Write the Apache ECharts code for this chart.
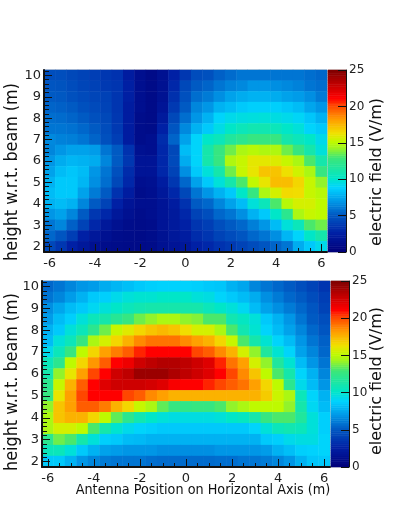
<!DOCTYPE html>
<html>
<head>
<meta charset="utf-8">
<style>html,body{margin:0;padding:0;background:#fff}#main{width:399px;height:532px}</style>
<script src="https://cdn.jsdelivr.net/npm/echarts@6/dist/echarts.min.js"></script>
</head>
<body>
<div id="main"></div>
<script>
// antenna positions -6..6 and heights 10..2, both in 0.5 m steps
var xCats = ['-6','-5.5','-5','-4.5','-4','-3.5','-3','-2.5','-2','-1.5','-1','-0.5','0','0.5','1','1.5','2','2.5','3','3.5','4','4.5','5','5.5','6']
var yCats = ['10','9.5','9','8.5','8','7.5','7','6.5','6','5.5','5','4.5','4','3.5','3','2.5','2']

// field values, first row is the top one (y = 10)
var topField = [
  [4.5,4.5,4.2,4,3.8,3.5,3.3,2.2,1.2,0.8,1.3,2.5,3.5,4.4,4.6,5.2,5.5,5.8,5.8,5.8,5.8,5.8,5.8,5.6,5.4],
  [4.8,4.7,4.4,4.1,3.9,3.6,3.4,2.4,1.2,0.8,1.3,2.8,4.2,5,5.3,5.8,6.2,6.4,6.8,6.8,6.6,6.4,6.2,5.8,5.6],
  [5,4.9,4.6,4.3,4.1,3.9,3.4,2.4,1.2,0.8,1.4,3.2,4.6,5.6,6,6.6,7.2,7.5,7.7,7.7,7.5,7.2,7,6.6,6],
  [5.3,5.2,5,4.6,4.3,4,3.4,2.2,1.2,0.8,1.6,3.6,5,6.3,6.8,7.7,8,8.4,8.6,8.6,8.6,8.3,8,7.3,6.8],
  [5.6,5.5,5.3,5,4.6,4.2,3.5,2.2,1,0.8,2,4.2,5.6,6.8,7.7,8.8,9.2,9.4,9.5,9.6,9.4,9.2,8.9,8.3,7.7],
  [5.8,5.8,5.7,5.4,5,4.4,3.6,2.2,1,0.9,2.5,4.8,6.4,7.7,8.4,9.3,10,10.5,10.8,10.8,10.5,10,9.6,8.8,8.4],
  [6.4,6.2,6.1,5.8,5.3,4.6,3.8,2.2,1,1.2,3,5.3,7.2,8.8,10,10.5,11.5,12,12.5,12.5,12.5,11,10.5,10,9.2],
  [6.3,6.8,7.2,7.2,7,5.8,5,3.3,1.3,1.2,2.8,4.2,8,8.8,11,12.5,13.5,14.5,14.8,14.6,14.6,13.5,12.5,11,9.6],
  [6.8,7.5,7.8,7.7,7.5,6.3,5,3.5,1.6,1.6,2.8,4.3,7.5,8.8,11,12.5,14.6,15.2,15.9,15.9,15.7,15.2,14.5,13,11],
  [7.2,8,8.3,8,6.8,5.8,4.6,3,1.6,1.6,2.8,4,6.6,8.4,9.6,11,13.5,15.2,16,17,17,16.2,15.4,14.5,12.5],
  [7.7,8.4,8.4,7.8,6.6,5.6,4.2,2.8,1.2,1.3,2.2,3.5,5.4,7.2,8.4,9.6,11,13,15.1,16,17.2,17.2,16.5,15.2,14],
  [8,8.4,8.4,7.2,6,5,3.3,2.2,1,1.2,1.9,2.8,4.2,5.8,6.8,7.7,8.4,10,12.5,14.5,15.5,16.4,16.3,15.2,14.8],
  [7.7,8,7.7,6.3,5,4,2.5,1.6,1.2,1.2,1.6,2.2,3.3,5,5.4,6.3,7.2,8,9.6,10.5,13,14.8,15.5,15.5,15],
  [6.8,7.2,6.3,5,3.5,2.8,1.9,1.3,1,1.2,1.6,2,2.8,4,4.5,5.4,5.8,6.6,7.7,8.4,10,12,14.5,15.2,15],
  [5.8,6.3,5.2,4,2.8,1.9,1.3,1,0.9,1,1.6,2,2.5,3.4,3.8,4.5,5,5.4,6.1,6.8,8,9.6,10.5,13,13.5],
  [5.4,4.8,3.8,2.5,1.9,1.3,1,0.9,0.8,1,1.4,1.9,2.2,3,3.4,4,4.4,4.8,5.4,5.8,6.6,7.8,8.8,10,11],
  [4.2,3.5,2.5,1.9,1.3,1,0.9,0.8,0.8,0.9,1.3,1.6,1.9,2.5,2.8,3.3,3.6,4,4.4,4.8,5.3,5.8,7.5,8.4,9.2]
]
var bottomField = [
  [5.4,5.8,6.3,6.8,7,7.5,7.8,8.1,8.4,8.6,8.7,8.7,8.7,8.6,8.4,8.3,7.7,7.3,6.3,5.8,5.4,5,4.5,4,3.4],
  [5.8,6.3,7,7.7,8.4,8.6,9.2,9.6,9.8,9.8,10,10,10,9.6,9.4,8.8,8.4,8,7.5,6.6,6,5.4,5,4.4,3.8],
  [6.6,7.3,8,8.4,9,9.6,10,10.5,10.8,11,11,11,11,11,10.5,10,9.6,9,8,7.2,6.6,6,5.4,4.8,4],
  [7,8,8.6,9.6,10.5,11,11.8,12.5,13.5,14,14.5,14.5,14,13.8,13,13,10.8,10.2,9.6,8.4,7.7,6.8,5.8,5,4.5],
  [7.7,8.4,9.6,10.5,12,13.5,15.2,15.8,16.5,17,17.3,17,16.3,15.5,15.5,14.5,13,10.8,9.8,8.8,8,7.2,6.3,5.4,4.8],
  [8,9.6,10.5,12.5,14.5,15.5,16.5,17.5,18.5,19,19,19,18.5,18,17.5,16.5,15.2,13,11,9.8,8.8,8,6.8,5.8,5.2],
  [9.2,10.5,12.5,15,16.5,18,18.8,19.5,20.5,21,21,21,21,20,19.5,18.5,17.5,15.5,14,11.5,9.8,8.8,7.2,6.3,5.4],
  [10.5,12,15,16.5,18.2,19.5,21,21.5,22.5,23,23.3,23.3,23,22.5,22,20.5,19,18,15.5,14,11.5,9.8,8,6.8,5.8],
  [11,14,16,18,20,21,22.5,23,24,24,24,23.5,23,22.5,22,21,20,18.5,17,15,13,11,8.8,7.7,6.3],
  [12,15.2,17.5,19.5,21,22,22.5,22.5,22.5,22.3,22,21.2,21,21,20.5,20,19.5,19,18,16.5,15,12,9.2,8,6.8],
  [12.5,16,18,20,21,21,21,20,19.5,18.5,18,17.5,17.5,17.5,17.5,17.5,17.5,17.5,17.5,16.8,15.3,14.5,10.5,8.8,7.7],
  [14,17,18,19.5,19.5,18.8,17.5,16.5,15.2,14.5,13.3,12.5,12.3,12.5,12.5,13,14,14.5,15,15,15,14,11,9,8],
  [14.5,17,17.5,17.5,16.5,15,13.3,12,10.8,10,9.6,9.4,9.4,9.4,9.4,9.6,10,10.3,11,12.5,13,13,11.5,9.6,8.6],
  [14.5,15.5,15.5,15,13,11,9.8,9.2,8.8,8.6,8.4,8.4,8.4,8.4,8.4,8.4,8.4,8.4,8.8,9.6,10.5,10.8,10.5,9.6,8.6],
  [12,13.5,13,11,9.6,8.6,8.4,8,7.9,7.7,7.7,7.7,7.7,7.7,7.7,7.7,7.7,7.7,7.7,8.4,8.6,9.2,9.4,9.4,8.8],
  [10.5,10.5,9.6,8.4,7.7,7.2,7,6.8,6.8,6.8,6.6,6.6,6.6,6.6,6.6,6.8,6.8,6.8,6.8,7,7.7,8.1,8.6,8.7,8.8],
  [8.4,8.4,7.7,6.8,6.3,6,5.8,5.8,5.8,5.6,5.5,5.5,5.5,5.5,5.5,5.6,5.6,5.8,5.8,6,6.3,6.8,7.7,8.3,8.4]
]
var barColors = ['#00007a','#0020a5','#005ac3','#0096e6','#00d2ff','#00e6c8','#3ce678','#a0f51e','#befa00','#f0e100','#ffa000','#ff4600','#ff0000','#be0000','#780000']
var barStops = [0,2.5,5,6.8,8.7,10,12.8,14.2,15,16.2,18,20,21,23,25]

// turn one of the rows-by-columns tables into heatmap triples
function cells(table) {
  var out = []
  table.forEach(function (row, j) {
    row.forEach(function (v, i) { out.push([i, j, v]) })
  })
  return out
}

var barLevels = []
for (var k = 0; k < 100; k++) barLevels.push(String(k / 4))

// tick slots every 0.1 m: every second one makes the 0.2 m minor ticks on y
var yTickSlots = []
for (var m = 102; m >= 18; m--) yTickSlots.push(String(m / 10))

function colorScale() {
  // visualMap spaces colours evenly, so lay the stops out on quarter steps
  var out = []
  for (var n = 0; n <= 100; n++) {
    var v = n / 4, s = 0
    while (s < barStops.length - 2 && v > barStops[s + 1]) s++
    var t = (v - barStops[s]) / (barStops[s + 1] - barStops[s])
    var a = echarts.color.parse(barColors[s]), b = echarts.color.parse(barColors[s + 1])
    out.push('rgb(' + [0, 1, 2].map(function (c) { return Math.round(a[c] + (b[c] - a[c]) * t) }).join(',') + ')')
  }
  return out
}

var grids = [
  { left: 44, top: 70, width: 283, height: 182 },
  { left: 328, top: 70, width: 18, height: 182 },
  { left: 42, top: 281, width: 288, height: 186 },
  { left: 331, top: 281, width: 18, height: 186 }
]
var ink = '#111'
var tickFont = { color: '#222', fontFamily: 'DejaVu Sans', fontSize: 13 }
var xAxes = [], yAxes = [], series = []

function heatPlot(g, table) {
  var xi = xAxes.length, yi = yAxes.length
  xAxes.push({
    type: 'category', gridIndex: g, data: xCats, position: 'bottom', z: 5,
    axisLine: { show: true, onZero: false, lineStyle: { color: ink, width: 2 } },
    axisTick: { show: true, inside: true, alignWithLabel: true, length: 8, lineStyle: { color: ink },
      interval: function (i) { return i % 4 === 0 } },
    axisLabel: Object.assign({ margin: 5, interval: function (i) { return i % 4 === 0 } }, tickFont)
  })
  xAxes.push({
    type: 'category', gridIndex: g, data: xCats, position: 'bottom', z: 5,
    axisLine: { show: false, onZero: false },
    axisTick: { show: true, inside: true, alignWithLabel: true, length: 4, interval: 0, lineStyle: { color: ink } },
    axisLabel: { show: false }
  })
  yAxes.push({
    type: 'category', gridIndex: g, data: yCats, inverse: true, position: 'left', z: 5,
    axisLine: { show: true, onZero: false, lineStyle: { color: ink, width: 2 } },
    axisTick: { show: true, inside: true, alignWithLabel: true, length: 8, lineStyle: { color: ink },
      interval: function (i) { return i % 2 === 0 } },
    axisLabel: Object.assign({ margin: 3, interval: function (i) { return i % 2 === 0 } }, tickFont)
  })
  yAxes.push({
    type: 'category', gridIndex: g, data: yTickSlots, inverse: true, position: 'left', z: 5,
    axisLine: { show: false, onZero: false },
    axisTick: { show: true, inside: true, alignWithLabel: true, length: 5, lineStyle: { color: ink },
      interval: function (i) { return i % 2 === 0 } },
    axisLabel: { show: false }
  })
  series.push({ type: 'heatmap', xAxisIndex: xi, yAxisIndex: yi, data: cells(table), progressive: 0 })
}
function colorBar(g) {
  var xi = xAxes.length, yi = yAxes.length
  xAxes.push({ type: 'category', gridIndex: g, data: ['field'], show: false })
  yAxes.push({ type: 'category', gridIndex: g, data: barLevels, show: false })
  yAxes.push({
    type: 'value', gridIndex: g, position: 'right', min: 0, max: 25, interval: 5, z: 5,
    axisLine: { show: true, onZero: false, lineStyle: { color: ink, width: 1 } },
    axisTick: { show: true, inside: true, length: 8, lineStyle: { color: ink } },
    splitLine: { show: false },
    axisLabel: Object.assign({}, tickFont, { margin: 3, fontSize: 12 })
  })
  series.push({
    type: 'heatmap', xAxisIndex: xi, yAxisIndex: yi, progressive: 0,
    data: barLevels.map(function (l, i) { return [0, i, Number(l)] })
  })
}
heatPlot(0, topField)
colorBar(1)
heatPlot(2, bottomField)
colorBar(3)

function label(text, x, y, size, squeeze, rotate) {
  return {
    type: 'text', x: x, y: y, rotation: rotate ? Math.PI / 2 : 0, scaleX: squeeze, z: 10,
    style: { text: text, fill: ink, font: size + 'px "DejaVu Sans"', align: 'center', verticalAlign: 'middle' }
  }
}

var chart = echarts.init(document.getElementById('main'), null, { renderer: 'canvas' })
chart.setOption({
  animation: false,
  backgroundColor: '#fff',
  grid: grids.map(function (g) {
    return Object.assign({ show: true, borderColor: '#bbb', borderWidth: 1, backgroundColor: 'transparent' }, g)
  }),
  xAxis: xAxes,
  yAxis: yAxes,
  visualMap: { show: false, min: 0, max: 25, seriesIndex: [0, 1, 2, 3], inRange: { color: colorScale() } },
  series: series,
  graphic: [
    label('height w.r.t. beam (m)', 13, 172, 17, 0.94, true),
    label('height w.r.t. beam (m)', 13, 382, 17, 0.94, true),
    label('electric field (V/m)', 377, 172, 16, 1, true),
    label('electric field (V/m)', 377, 381, 16, 1, true),
    label('Antenna Position on Horizontal Axis (m)', 203, 490, 14, 0.915, false)
  ]
})
</script>
</body>
</html>
